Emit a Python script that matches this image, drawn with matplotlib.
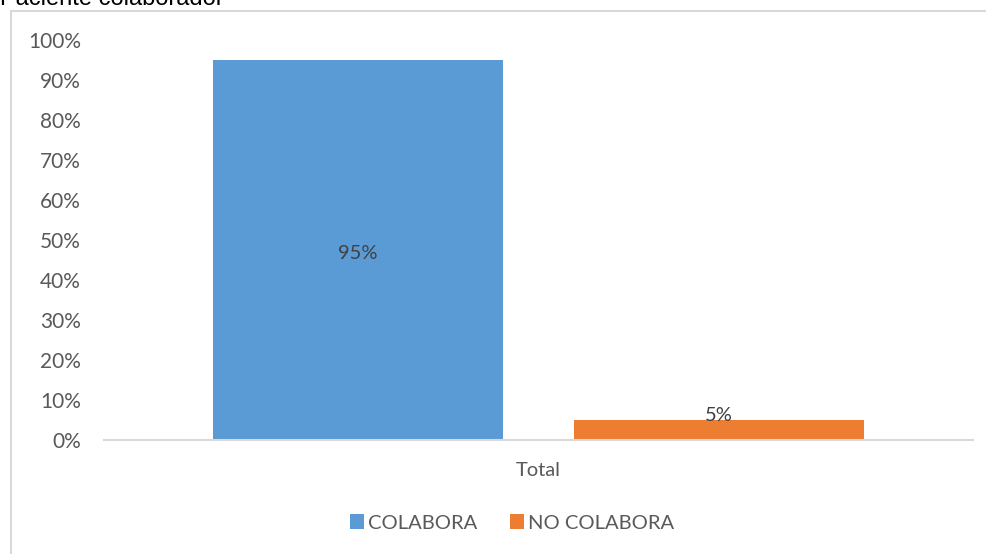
import matplotlib
matplotlib.use("Agg")
import matplotlib.pyplot as plt
from matplotlib.patches import Rectangle
from matplotlib.ticker import PercentFormatter

# datos
categorias = ["COLABORA", "NO COLABORA"]
valores = [0.95, 0.05]
colores = ["#5B9BD5", "#ED7D31"]
titulo = "Paciente colaborador"

plt.rcParams["font.family"] = ["Lato", "DejaVu Sans"]

fig = plt.figure(figsize=(9.87, 5.54), dpi=100)
ax = fig.add_axes([104 / 987, 1 - 440 / 554, 869 / 987, 400 / 554])

# borde del área del gráfico (se sale por la derecha y por abajo)
fig.patches.append(Rectangle((11 / 987, -0.1), 1.1, 1 - 11 / 554 + 0.1,
                             transform=fig.transFigure, fill=False,
                             edgecolor="#d9d9d9", linewidth=1.5))

fig.text(0, 1 - 5 / 554, titulo, family="Liberation Sans", fontsize=17,
         color="black", ha="left", va="baseline")

desplaz = [-0.208, 0.208]
ancho = 0.334
for nombre, v, c, dx in zip(categorias, valores, colores, desplaz):
    ax.bar(dx, v, width=ancho, color=c, label=nombre)
    y = v / 2 if v > 0.1 else v + 0.012
    ax.text(dx, y - 0.008 if v > 0.1 else y, f"{v:.0%}", ha="center",
            va="center", fontsize=14.5, color="#404040")

ax.set_xlim(-0.5, 0.5)
ax.set_ylim(0, 1)
ax.yaxis.set_major_locator(plt.MultipleLocator(0.1))
ax.yaxis.set_major_formatter(PercentFormatter(1.0, decimals=0))
ax.set_xticks([])
ax.tick_params(axis="y", length=0, labelsize=15, labelcolor="#595959", pad=16.5)

for lado in ["top", "right", "left"]:
    ax.spines[lado].set_visible(False)
ax.spines["bottom"].set_color("#d9d9d9")
ax.spines["bottom"].set_linewidth(1.5)

ax.text(0.5, -30 / 400, "Total", transform=ax.transAxes, ha="center",
        va="center", fontsize=14.5, color="#595959")

ax.legend(loc="center", bbox_to_anchor=(512 / 987, 1 - 523 / 554),
          bbox_transform=fig.transFigure, ncol=2, frameon=False,
          fontsize=14.5, labelcolor="#595959", handlelength=0.7,
          handleheight=0.7, handletextpad=0.2, columnspacing=1.6)

fig.savefig("out.png", dpi=100)
